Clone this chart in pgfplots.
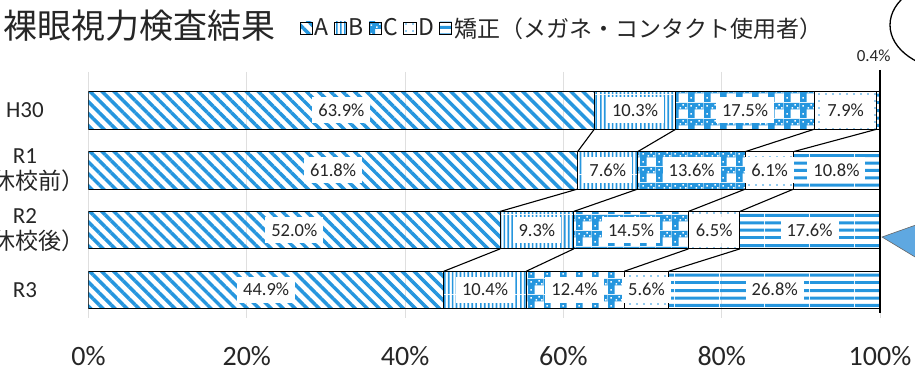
\documentclass[border=0pt]{standalone}
\usepackage{fontspec}
\setmainfont{Noto Sans CJK JP}
\newfontfamily\carl{Carlito}
\usepackage{pgfplots}
\usepackage{pgfplotstable}
\pgfplotsset{compat=1.18}
\usetikzlibrary{patterns,patterns.meta}
\definecolor{bl}{RGB}{38,150,222}
\definecolor{tri}{RGB}{95,168,225}

\pgfdeclarepatterninherentlycolored{plaid}{\pgfpointorigin}{\pgfqpoint{16pt}{16pt}}{\pgfqpoint{16pt}{16pt}}{%
 \pgfsetfillcolor{white}%
 \pgfpathrectangle{\pgfpointorigin}{\pgfqpoint{16pt}{16pt}}\pgfusepath{fill}%
 \pgfsetfillcolor{bl}%
 \pgfpathrectangle{\pgfpointorigin}{\pgfqpoint{7pt}{16pt}}%
 \pgfpathrectangle{\pgfqpoint{7pt}{9pt}}{\pgfqpoint{9pt}{7pt}}%
 \pgfusepath{fill}%
 \pgfsetfillcolor{white}%
 \pgfpathrectangle{\pgfqpoint{8pt}{10pt}}{\pgfqpoint{1.6pt}{1.6pt}}%
 \pgfpathrectangle{\pgfqpoint{11pt}{13pt}}{\pgfqpoint{1.6pt}{1.6pt}}%
 \pgfpathrectangle{\pgfqpoint{14pt}{10pt}}{\pgfqpoint{1.6pt}{1.6pt}}%
 \pgfpathrectangle{\pgfqpoint{2.5pt}{12pt}}{\pgfqpoint{1.6pt}{1.6pt}}%
 \pgfpathrectangle{\pgfqpoint{2.5pt}{3.5pt}}{\pgfqpoint{1.6pt}{1.6pt}}%
 \pgfusepath{fill}%
}
\pgfdeclarepatternformonly{vl}{\pgfpointorigin}{\pgfqpoint{40pt}{40pt}}{\pgfqpoint{40pt}{40pt}}{%
 \foreach \i in {0,...,9}{\pgfpathrectangle{\pgfpoint{\i*4pt}{0pt}}{\pgfpoint{1.7pt}{40pt}}}%
 \pgfusepath{fill}}
\pgfdeclarepatternformonly{hl}{\pgfpointorigin}{\pgfqpoint{45pt}{45pt}}{\pgfqpoint{45pt}{45pt}}{%
 \foreach \i in {0,...,5}{\pgfpathrectangle{\pgfpoint{0pt}{\i*7.5pt}}{\pgfpoint{45pt}{3pt}}}%
 \pgfusepath{fill}}

\pgfplotstableread{
y A B C D E
0 63.9 10.3 17.5 7.9 0.4
1 61.8 7.6 13.6 6.1 10.8
2 52.0 9.3 14.5 6.5 17.6
3 44.9 10.4 12.4 5.6 26.8
}\datatable

\pgfplotstableread{
x y lab
31.95 0 63.9
69.05 0 10.3
82.95 0 17.5
95.65 0 7.9
30.9 1 61.8
65.6 1 7.6
76.2 1 13.6
86.05 1 6.1
94.5 1 10.8
26.0 2 52.0
56.65 2 9.3
68.55 2 14.5
79.05 2 6.5
91.1 2 17.6
22.45 3 44.9
50.1 3 10.4
61.4 3 12.4
70.5 3 5.6
86.7 3 26.8
}\labtable

\pgfplotstableread{
x y lab
99.2 -0.91 0.4
}\smalltable

\begin{document}
\begin{tikzpicture}[x=1pt,y=1pt]
\path[use as bounding box] (0pt,0pt) rectangle (915pt,374pt);
\begin{scope}
\clip (0pt,0pt) rectangle (915pt,374pt);

\node[anchor=west, inner sep=0pt, font=\fontsize{34}{36}\selectfont, text=black!85] at (3pt,348pt) {裸眼視力検査結果};

\begin{axis}[
  at={(88.5pt,56pt)}, anchor=south west,
  scale only axis, width=791.5pt, height=246pt,
  xbar stacked, bar width=0.627,
  xmin=0, xmax=100, ymin=-0.643, ymax=3.468,
  y dir=reverse,
  xtick={0,20,40,60,80,100},
  xticklabels={0\%,20\%,40\%,60\%,80\%,100\%},
  xticklabel style={font=\carl\fontsize{28}{30}\selectfont, text=black!85, yshift=-25pt},
  ytick={0,1,2,3},
  yticklabels={{\carl H30},{{\carl R1}\\（休校前）},{{\carl R2}\\（休校後）},{\carl R3}},
  yticklabel style={font=\fontsize{23}{26}\selectfont, align=center, text width=110pt, xshift=-5pt, text=black!85},
  xmajorgrids, major grid style={gray!25, line width=0.8pt},
  axis line style={draw=none}, major tick length=0pt,
  legend image code/.code={\draw[#1, draw=black, line width=0.9pt] (0pt,-6pt) rectangle (12pt,6pt);},
  legend columns=-1,
  legend style={at={(axis description cs:0.267,1.179)}, anchor=west, draw=none, fill=none,
    inner sep=0pt, font=\fontsize{23}{25}\selectfont, text=black!85,
    /tikz/every even column/.append style={column sep=3pt},
    nodes={inner xsep=2pt, inner ysep=0pt}},
  every axis plot/.append style={draw=black, line width=1.1pt},
]
\addplot[pattern={Lines[angle=-45,distance=8.5pt,line width=3.5pt]}, pattern color=bl] table[x=A,y=y] \datatable;
\addplot[pattern=vl, pattern color=bl] table[x=B,y=y] \datatable;
\addplot[pattern=plaid] table[x=C,y=y] \datatable;
\addplot[pattern={Dots[distance=7pt,radius=0.9pt]}, pattern color=bl] table[x=D,y=y] \datatable;
\addplot[pattern=hl, pattern color=bl] table[x=E,y=y] \datatable;
\legend{A,B,C,D,矯正（メガネ・コンタクト使用者）}
\end{axis}

\begin{axis}[
  at={(88.5pt,56pt)}, anchor=south west,
  scale only axis, width=791.5pt, height=246pt,
  xmin=0, xmax=100, ymin=-0.643, ymax=3.468,
  y dir=reverse, clip=false,
  axis lines=none, ticks=none,
]
\pgfplotsset{sl/.style={black, line width=1.1pt, mark=none}}
\addplot[sl] coordinates {(63.9,0.313) (61.8,0.687)};
\addplot[sl] coordinates {(74.2,0.313) (69.4,0.687)};
\addplot[sl] coordinates {(91.7,0.313) (83.0,0.687)};
\addplot[sl] coordinates {(99.6,0.313) (89.1,0.687)};
\addplot[sl] coordinates {(61.8,1.313) (52.0,1.687)};
\addplot[sl] coordinates {(69.4,1.313) (61.3,1.687)};
\addplot[sl] coordinates {(83.0,1.313) (75.8,1.687)};
\addplot[sl] coordinates {(89.1,1.313) (82.3,1.687)};
\addplot[sl] coordinates {(52.0,2.313) (44.9,2.687)};
\addplot[sl] coordinates {(61.3,2.313) (55.3,2.687)};
\addplot[sl] coordinates {(75.8,2.313) (67.7,2.687)};
\addplot[sl] coordinates {(82.3,2.313) (73.3,2.687)};
\addplot[black, line width=1.3pt, mark=none] coordinates {(100,-0.677) (100,3.384)};
\addplot[draw=none, mark=none, nodes near coords={\pgfplotspointmeta\%}, point meta=explicit symbolic,
  every node near coord/.append style={anchor=center, fill=white, font=\carl\fontsize{18.5}{20}\selectfont,
  text=black!85, inner xsep=6pt, inner ysep=0pt, text height=13pt, text depth=1pt, minimum height=26pt}]
  table[x=x,y=y,meta=lab] \labtable;
\addplot[draw=none, mark=none, nodes near coords={\pgfplotspointmeta\%}, point meta=explicit symbolic,
  every node near coord/.append style={anchor=center, font=\carl\fontsize{17}{18}\selectfont,
  text=black!85, inner sep=0pt}]
  table[x=x,y=y,meta=lab] \smalltable;
\end{axis}

\draw[black, line width=1.3pt] (955pt,349pt) ellipse [x radius=65pt, y radius=45pt];
\draw[fill=tri, draw=black!60, line width=0.6pt] (882pt,137pt) -- (930pt,154pt) -- (930pt,108pt) -- cycle;
\end{scope}
\end{tikzpicture}
\end{document}
